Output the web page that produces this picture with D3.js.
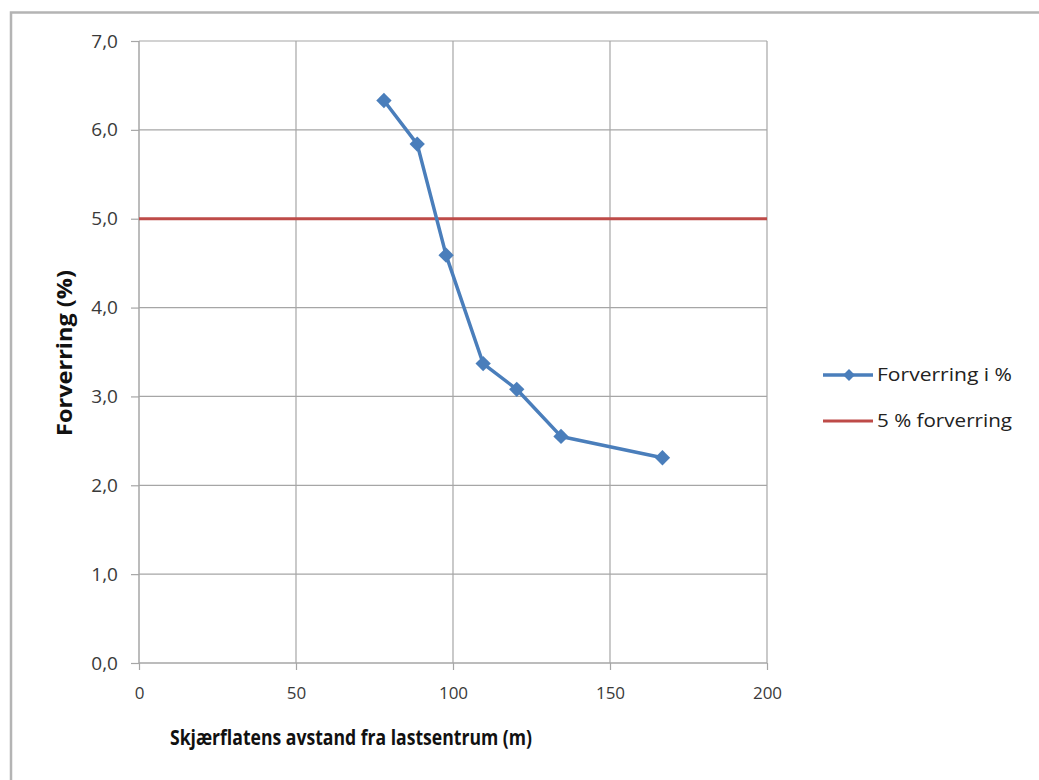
<!DOCTYPE html>
<html><head><meta charset="utf-8">
<script src="https://cdn.jsdelivr.net/npm/d3@7"></script>
<style>body{margin:0;background:#fff;} svg{display:block;}</style>
</head><body>
<svg id="c" width="1039" height="780"></svg>
<script>
const distances = [78.0, 88.6, 97.8, 109.6, 120.3, 134.4, 166.7];
const forverring = [6.33, 5.84, 4.59, 3.37, 3.08, 2.55, 2.31];
const thresholdValue = 5.0;
const xTicks = [0, 50, 100, 150, 200];
const yTicks = [0, 1, 2, 3, 4, 5, 6, 7];
const seriesNames = ["Forverring i %", "5 % forverring"];
const xTitle = "Skjærflatens avstand fra lastsentrum (m)";
const yTitle = "Forverring (%)";

const svg = d3.select("#c");
const font = "'Open Sans', 'Noto Sans', sans-serif";
const blue = "#4a7ebb", red = "#be4b48", grid = "#a6a6a6";

svg.append("rect").attr("x", 11).attr("y", 12.5).attr("width", 1040).attr("height", 800)
  .attr("fill", "#fff").attr("stroke", "#b4b4b4").attr("stroke-width", 2.5);

const x = d3.scaleLinear().domain([0, 200]).range([139, 767]);
const y = d3.scaleLinear().domain([0, 7]).range([663, 41]);

const g = svg.append("g");
g.selectAll(".gx").data(xTicks.slice(1)).enter().append("line")
  .attr("x1", d => x(d)).attr("x2", d => x(d)).attr("y1", y(7)).attr("y2", y(0))
  .attr("stroke", grid).attr("stroke-width", 1.2);
g.selectAll(".gy").data(yTicks.slice(1)).enter().append("line")
  .attr("x1", x(0)).attr("x2", x(200)).attr("y1", d => y(d)).attr("y2", d => y(d))
  .attr("stroke", grid).attr("stroke-width", 1.2);

const xAxis = d3.axisBottom(x).tickValues(xTicks).tickSize(7).tickPadding(17).tickFormat(d3.format("d"));
const yAxis = d3.axisLeft(y).tickValues(yTicks).tickSize(8).tickPadding(13).tickFormat(d => d.toFixed(1).replace(".", ","));
const gx = svg.append("g").attr("transform", `translate(0,${y(0)})`).call(xAxis);
const gy = svg.append("g").attr("transform", `translate(${x(0)},0)`).call(yAxis);
[gx, gy].forEach(a => {
  a.select(".domain").attr("stroke", grid).attr("stroke-width", 1.5);
  a.selectAll(".tick line").attr("stroke", grid).attr("stroke-width", 1.2);
  a.selectAll(".tick text").attr("fill", "#3a3a3a").style("font-family", font);
});
gx.selectAll(".tick text").style("font-size", "17px");
gy.selectAll(".tick text").style("font-size", "19px");
gx.select(".domain").attr("d", `M${x(0)},0H${x(200)}`);
gy.select(".domain").attr("d", `M0,${y(0)}V${y(7)}`);

svg.append("line").attr("x1", x(0)).attr("x2", x(200))
  .attr("y1", y(thresholdValue)).attr("y2", y(thresholdValue))
  .attr("stroke", red).attr("stroke-width", 3);

const pts = distances.map((d, i) => [d, forverring[i]]);
svg.append("path").datum(pts)
  .attr("d", d3.line().x(d => x(d[0])).y(d => y(d[1])))
  .attr("fill", "none").attr("stroke", blue).attr("stroke-width", 3.5).attr("stroke-linejoin", "round");
const diamond = d3.symbol().type(d3.symbolDiamond2).size(150);
svg.selectAll(".pt").data(pts).enter().append("path")
  .attr("d", diamond).attr("transform", d => `translate(${x(d[0])},${y(d[1])})`)
  .attr("fill", blue);

svg.append("text").attr("x", 351).attr("y", 745).attr("text-anchor", "middle")
  .attr("textLength", 362).attr("lengthAdjust", "spacingAndGlyphs")
  .style("font-family", font).style("font-weight", "bold").style("font-size", "21px").attr("fill", "#111")
  .text(xTitle);
svg.append("text").attr("transform", "translate(72,353) rotate(-90)").attr("text-anchor", "middle")
  .attr("textLength", 166).attr("lengthAdjust", "spacingAndGlyphs")
  .style("font-family", font).style("font-weight", "bold").style("font-size", "22px").attr("fill", "#111")
  .text(yTitle);

const leg = svg.append("g");
const ly = [375, 421];
leg.append("line").attr("x1", 823).attr("x2", 873).attr("y1", ly[0]).attr("y2", ly[0]).attr("stroke", blue).attr("stroke-width", 3.5);
leg.append("path").attr("d", d3.symbol().type(d3.symbolDiamond2).size(90)).attr("transform", `translate(849,${ly[0]})`).attr("fill", blue);
leg.append("line").attr("x1", 823).attr("x2", 873).attr("y1", ly[1]).attr("y2", ly[1]).attr("stroke", red).attr("stroke-width", 3);
seriesNames.forEach((n, i) => {
  leg.append("text").attr("x", 877).attr("y", ly[i]).attr("dy", "0.35em")
    .attr("textLength", 135).attr("lengthAdjust", "spacingAndGlyphs")
    .style("font-family", font).style("font-size", "18px").attr("fill", "#222").text(n);
});
</script>
</body></html>
